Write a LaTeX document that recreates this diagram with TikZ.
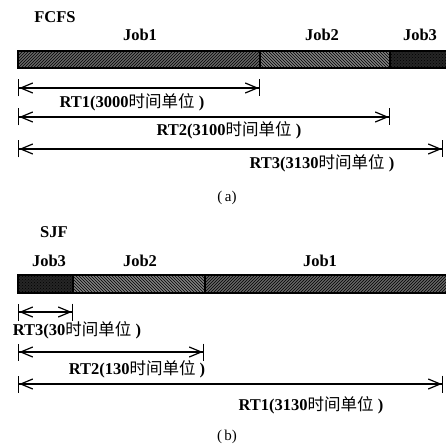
\documentclass[tikz,border=0pt]{standalone}
\usepackage{fontspec}
\setmainfont{Liberation Serif}
\newfontfamily\cjk{Noto Sans CJK SC}
\usetikzlibrary{arrows.meta,patterns}

\begin{document}
\begin{tikzpicture}[x=1pt,y=-1pt,line width=1.2pt,
  lbl/.style={font=\fontsize{16.5}{18}\selectfont\bfseries},
  rtspan/.style={arrows={Bar[width=17pt,sep=0pt]Straight Barb[length=12pt,width=10pt]-Straight Barb[length=12pt,width=10pt]Bar[width=17pt,sep=0pt]}}]
  \useasboundingbox (0,0) rectangle (445,446);
  % (a) FCFS
  \node[lbl] (fcfs) at (55,17) {FCFS};
  \foreach \n/\x/\j in {fj1/140/Job1,fj2/322/Job2,fj3/420/Job3}{
    \node[lbl] (\n) at (\x,35) {\j};
  }
  \foreach \l/\r/\c/\p in {18/260/60/north east lines,260/390/50/north west lines,390/447/85/crosshatch dots}{
    \fill[black!\c] (\l,51) rectangle (\r,68);
    \fill[pattern=\p,pattern color=black] (\l,51) rectangle (\r,68);
    \draw (\l,51) rectangle (\r,68);
  }
  \foreach \n/\y/\e in {1/88/260,2/117/390,3/149/443}{
    \draw[rtspan] (18,\y) coordinate (fa\n) -- (\e,\y) coordinate (fb\n);
  }
  \node[lbl] (frt1) at (132,102) {RT1(3000{\cjk\mdseries 时间单位} )};
  \node[lbl] (frt2) at (229,130) {RT2(3100{\cjk\mdseries 时间单位} )};
  \node[lbl] (frt3) at (322,163) {RT3(3130{\cjk\mdseries 时间单位} )};
  \node[lbl,font=\fontsize{15}{17}\selectfont] (capa) at (227,198) {(\,a)};
  % (b) SJF
  \node[lbl] (sjf) at (54,232) {SJF};
  \foreach \n/\x/\j in {sj3/49/Job3,sj2/140/Job2,sj1/320/Job1}{
    \node[lbl] (\n) at (\x,261) {\j};
  }
  \foreach \l/\r/\c/\p in {18/73/85/crosshatch dots,73/205/50/north west lines,205/447/60/north east lines}{
    \fill[black!\c] (\l,275) rectangle (\r,293);
    \fill[pattern=\p,pattern color=black] (\l,275) rectangle (\r,293);
    \draw (\l,275) rectangle (\r,293);
  }
  \foreach \n/\y/\e in {3/312/73,2/352/204,1/384/443}{
    \draw[rtspan] (18,\y) coordinate (sa\n) -- (\e,\y) coordinate (sb\n);
  }
  \node[lbl] (srt3) at (77,330) {RT3(30{\cjk\mdseries 时间单位} )};
  \node[lbl] (srt2) at (137,369) {RT2(130{\cjk\mdseries 时间单位} )};
  \node[lbl] (srt1) at (311,405) {RT1(3130{\cjk\mdseries 时间单位} )};
  \node[lbl,font=\fontsize{15}{17}\selectfont] (capb) at (227,437) {(\,b)};
\end{tikzpicture}
\end{document}
